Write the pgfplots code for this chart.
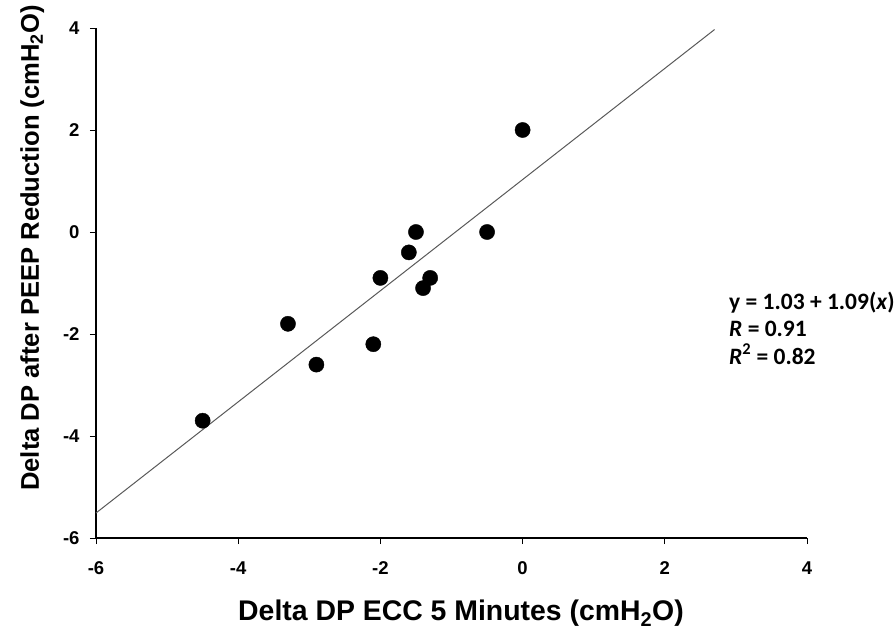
\documentclass[border=0pt]{standalone}
\usepackage{fontspec}
\setmainfont{Liberation Sans}
\newfontfamily\calibri{Carlito}
\usepackage{pgfplots}
\pgfplotsset{compat=1.18}
\begin{document}
\begin{tikzpicture}
\path[use as bounding box] (-96pt,-97pt) rectangle (800pt,538pt);
\begin{axis}[
  scale only axis, width=711pt, height=510pt,
  anchor=south west, at={(0pt,0pt)},
  xmin=-6, xmax=4, ymin=-6, ymax=4,
  axis x line=bottom, axis y line=left,
  axis line style={line width=2.6pt, -},
  xtick={-6,-4,-2,0,2,4}, xticklabels={-6,-4,-2,0,2,4},
  ytick={-6,-4,-2,0,2,4}, yticklabels={-6,-4,-2,0,2,4},
  tick align=outside, major tick length=6pt,
  tick style={line width=0.9pt, black},
  every tick label/.append style={font=\fontsize{18.5}{22}\selectfont\bfseries},
  xticklabel style={yshift=-14pt},
  yticklabel style={xshift=-7pt},
  clip=false,
]
\addplot[gray!70!black, line width=1pt] coordinates {(-6,-5.51) (2.7,3.97)};
\addplot[only marks, mark=*, mark size=7.6pt, black] coordinates {
(-4.5,-3.7) (-3.3,-1.8) (-2.9,-2.6) (-2.1,-2.2) (-2.0,-0.9) (-1.6,-0.4)
(-1.5,0.0) (-1.3,-0.9) (-1.4,-1.1) (-0.5,0.0) (0.0,2.0)};
\end{axis}
\node[anchor=base, inner sep=0pt, font=\fontsize{28.4}{31}\selectfont\bfseries] at (365pt,-82.7pt) {Delta DP ECC 5 Minutes (cmH\textsubscript{2}O)};
\node[anchor=base, inner sep=0pt, rotate=90, font=\fontsize{25.6}{29}\selectfont\bfseries] at (-57pt,290pt) {Delta DP after PEEP Reduction (cmH\textsubscript{2}O)};
\node[anchor=base west, inner sep=0pt, font=\calibri\fontsize{23.5}{27}\selectfont\bfseries] at (633pt,229pt) {y = 1.03 + 1.09(\textit{x})};
\node[anchor=base west, inner sep=0pt, font=\calibri\fontsize{23.5}{27}\selectfont\bfseries] at (633pt,201pt) {\textit{R} = 0.91};
\node[anchor=base west, inner sep=0pt, font=\calibri\fontsize{23.5}{27}\selectfont\bfseries] at (633pt,174pt) {\textit{R}\textsuperscript{2} = 0.82};
\end{tikzpicture}
\end{document}
